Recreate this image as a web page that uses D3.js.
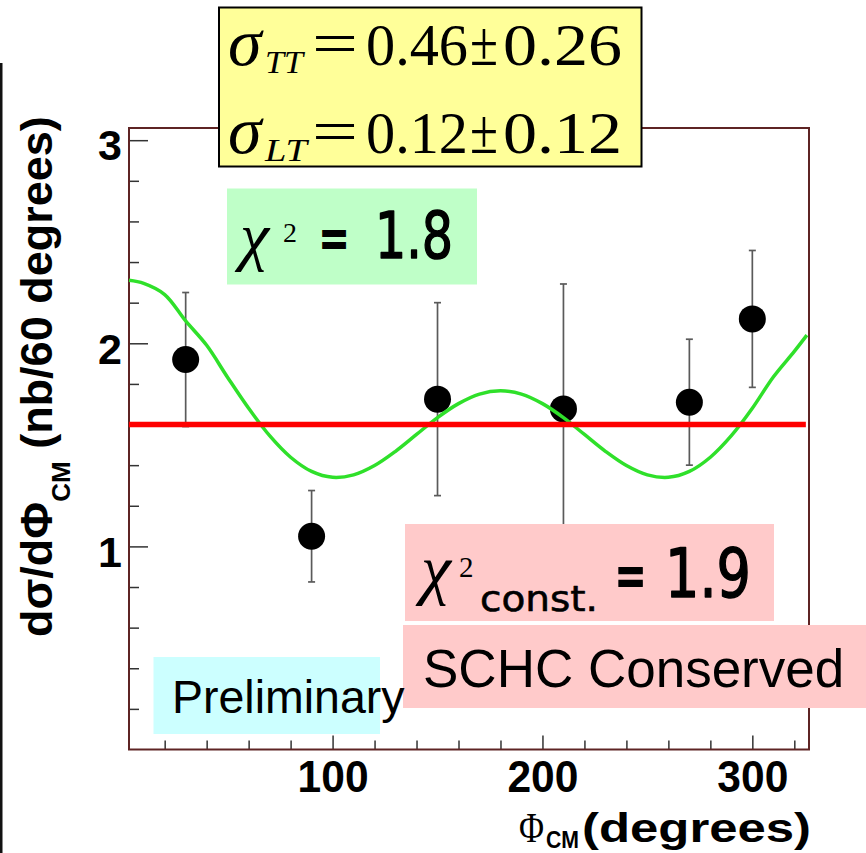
<!DOCTYPE html>
<html>
<head>
<meta charset="utf-8">
<script src="https://cdn.jsdelivr.net/npm/d3@7"></script>
<style>
  html, body { margin: 0; padding: 0; background: #fff; }
  svg { display: block; }
</style>
</head>
<body>
<svg id="chart" width="866" height="853"></svg>
<script>
// Measured azimuthal distribution (bin centres in degrees)
const phiBins = [30, 90, 150, 210, 270, 300];
const xsec = [1.92, 1.05, 1.725, 1.677, 1.71, 2.12];
const xsecErr = [0.33, 0.225, 0.475, 0.615, 0.31, 0.337];

// Fitted sigma_TT / sigma_LT modulation curve
const fitPhi = [3, 10, 20, 30, 40, 50, 60, 70, 80, 90, 100, 110, 120, 130, 140, 150, 160,
                170, 180, 190, 200, 210, 220, 230, 240, 250, 260, 270, 280, 290, 300, 310, 320, 326];
const fitVal = [2.31, 2.295, 2.24, 2.11, 1.99, 1.832, 1.68, 1.545, 1.439, 1.369, 1.34, 1.352, 1.398,
                1.468, 1.551, 1.634, 1.703, 1.75, 1.766, 1.75, 1.703, 1.634, 1.551, 1.468, 1.398,
                1.352, 1.34, 1.369, 1.439, 1.545, 1.68, 1.834, 1.96, 2.04];

// Constant (SCHC) fit
const constLevel = 1.60;
const constPhi = [3, 325.5];

// Axis ticks
const xMajor = [100, 200, 300];
const xMinor = [20, 40, 60, 80, 120, 140, 160, 180, 220, 240, 260, 280, 320];
const yMajor = [1, 2, 3];
const yMinor = [0.2, 0.4, 0.6, 0.8, 1.2, 1.4, 1.6, 1.8, 2.2, 2.4, 2.6, 2.8];

const svg = d3.select("#chart");
const sans = "'Liberation Sans', Arial, Helvetica, sans-serif";
const serif = "'Liberation Serif', 'Times New Roman', serif";
const round = "'DejaVu Sans', sans-serif";

const x = d3.scaleLinear().domain([3, 327]).range([129, 809]);
const y = d3.scaleLinear().domain([0, 3.06]).range([749.5, 128]);

// page margin rule on the left
svg.append("rect").attr("x", 0).attr("y", 63).attr("width", 2.5).attr("height", 790).attr("fill", "#111");

// axes
const tickColor = "#333";
function styleAxis(g) {
  g.select(".domain").remove();
  g.selectAll(".tick line").attr("stroke", tickColor).attr("stroke-width", 1.5);
}
svg.append("g").attr("transform", `translate(0,${y(0)})`)
  .call(d3.axisBottom(x).tickValues(xMinor).tickFormat("").tickSizeInner(-9).tickSizeOuter(0))
  .call(styleAxis);
svg.append("g").attr("transform", `translate(0,${y(0)})`)
  .call(d3.axisBottom(x).tickValues(xMajor).tickFormat(d3.format("d")).tickSizeInner(-14).tickSizeOuter(0).tickPadding(11))
  .call(styleAxis)
  .call(g => g.selectAll("text").attr("font-family", sans).attr("font-weight", "bold")
    .attr("font-size", 45).attr("fill", "#000").attr("textLength", 71).attr("lengthAdjust", "spacingAndGlyphs"));
svg.append("g").attr("transform", `translate(${x(3)},0)`)
  .call(d3.axisLeft(y).tickValues(yMinor).tickFormat("").tickSizeInner(-10).tickSizeOuter(0))
  .call(styleAxis);
svg.append("g").attr("transform", `translate(${x(3)},0)`)
  .call(d3.axisLeft(y).tickValues(yMajor).tickFormat(d3.format("d")).tickSizeInner(-19).tickSizeOuter(0).tickPadding(7))
  .call(styleAxis)
  .call(g => g.selectAll("text").attr("font-family", sans).attr("font-weight", "bold")
    .attr("font-size", 43).attr("fill", "#000").attr("dy", "0.46em"));

// plot frame
svg.append("rect")
  .attr("x", x(3)).attr("y", y(3.06))
  .attr("width", x(327) - x(3)).attr("height", y(0) - y(3.06))
  .attr("fill", "none").attr("stroke", "#5e2424").attr("stroke-width", 2);

// error bars
const bars = svg.append("g").attr("stroke", "#5a5a5a").attr("stroke-width", 1.7);
phiBins.forEach((p, i) => {
  const lo = xsec[i] - xsecErr[i], hi = xsec[i] + xsecErr[i];
  bars.append("line").attr("x1", x(p)).attr("x2", x(p)).attr("y1", y(lo)).attr("y2", y(hi));
  bars.append("line").attr("x1", x(p) - 3.5).attr("x2", x(p) + 3.5).attr("y1", y(lo)).attr("y2", y(lo));
  bars.append("line").attr("x1", x(p) - 3.5).attr("x2", x(p) + 3.5).attr("y1", y(hi)).attr("y2", y(hi));
});
svg.append("g").selectAll("circle").data(phiBins).join("circle")
  .attr("cx", d => x(d)).attr("cy", (d, i) => y(xsec[i])).attr("r", 13.5).attr("fill", "#000");

// modulation fit
const line = d3.line().x(d => x(d[0])).y(d => y(d[1])).curve(d3.curveCatmullRom);
svg.append("path").datum(fitPhi.map((p, i) => [p, fitVal[i]]))
  .attr("d", line).attr("fill", "none").attr("stroke", "#2fe02a").attr("stroke-width", 3.5);

// constant fit
svg.append("line")
  .attr("x1", x(constPhi[0])).attr("x2", x(constPhi[1]))
  .attr("y1", y(constLevel)).attr("y2", y(constLevel))
  .attr("stroke", "#ff0000").attr("stroke-width", 5.5);

// text helper
function txt(parent, s, o) {
  const t = parent.append("text").text(s)
    .attr("x", o.x).attr("y", o.y)
    .attr("font-family", o.family || sans)
    .attr("font-size", o.size)
    .attr("fill", "#000");
  if (o.weight) t.attr("font-weight", o.weight);
  if (o.style) t.attr("font-style", o.style);
  if (o.len) t.attr("textLength", o.len).attr("lengthAdjust", "spacingAndGlyphs");
  if (o.anchor) t.attr("text-anchor", o.anchor);
  if (o.thick) t.attr("stroke", "#000").attr("stroke-width", o.thick).attr("stroke-linejoin", "round");
  return t;
}
// narrow equals sign, squeezed horizontally
function equals(parent, px, py, size) {
  parent.append("text").text("=")
    .attr("transform", `translate(${px},${py}) scale(0.6,1)`)
    .attr("font-family", round).attr("font-size", size)
    .attr("fill", "#000").attr("stroke", "#000").attr("stroke-width", 2);
}

// axis titles
const yTitle = svg.append("g").attr("transform", "translate(52,637) rotate(-90)");
const yt = yTitle.append("text").attr("font-family", sans).attr("font-weight", "bold").attr("fill", "#000");
yt.append("tspan").attr("font-size", 45).text("dσ/dΦ");
yt.append("tspan").attr("font-size", 26).attr("dy", 18).text("CM");
yt.append("tspan").attr("font-size", 45).attr("dy", -18).text(" (nb/60 degrees)");

txt(svg, "Φ", { x: 519, y: 842, size: 42, family: serif, len: 25 });
txt(svg, "CM", { x: 546, y: 848, size: 24, weight: "bold", len: 33 });
txt(svg, "(degrees)", { x: 582, y: 842, size: 40, weight: "bold", len: 229 });

// fit result box
svg.append("rect").attr("x", 219).attr("y", 7.5).attr("width", 422.5).attr("height", 159)
  .attr("fill", "#ffff99").attr("stroke", "#000").attr("stroke-width", 2);
const fitBox = svg.append("g");
[["TT", 65, "0.46", "0.26"], ["LT", 153, "0.12", "0.12"]].forEach(([sub, base, v, e]) => {
  txt(fitBox, "σ", { x: 228, y: base, size: 68, family: serif, style: "italic" });
  txt(fitBox, sub, { x: 265, y: base + 8, size: 32, family: serif, style: "italic", len: sub === "TT" ? 38 : 42 });
  txt(fitBox, "=", { x: 312, y: base - 2, size: 60, family: serif, len: 46 });
  txt(fitBox, v, { x: 366, y: base, size: 60, family: serif, len: 102 });
  txt(fitBox, "±", { x: 470, y: base, size: 64, family: serif, len: 28 });
  txt(fitBox, e, { x: 503, y: base, size: 60, family: serif, len: 119 });
});

// chi-square of the modulation fit
svg.append("rect").attr("x", 227).attr("y", 188.5).attr("width", 250).attr("height", 96).attr("fill", "#bfffc8");
txt(svg, "χ", { x: 240, y: 258, size: 66, family: serif, style: "italic" });
txt(svg, "2", { x: 283, y: 242, size: 28, family: serif });
equals(svg, 319, 258, 60);
txt(svg, "1.8", { x: 375, y: 258, size: 64, family: round, len: 78, thick: 1.6 });

// chi-square of the constant fit
svg.append("rect").attr("x", 405).attr("y", 524).attr("width", 369).attr("height", 97).attr("fill", "#ffcaca");
txt(svg, "χ", { x: 421, y: 592, size: 68, family: serif, style: "italic" });
txt(svg, "2", { x: 459, y: 577, size: 29, family: serif });
txt(svg, "const.", { x: 480, y: 611, size: 36, family: round, len: 118, thick: 0.6 });
equals(svg, 615, 597, 62);
txt(svg, "1.9", { x: 665, y: 597, size: 68, family: round, len: 86, thick: 1.6 });

svg.append("rect").attr("x", 403).attr("y", 625).attr("width", 463).attr("height", 83).attr("fill", "#ffcaca");
txt(svg, "SCHC Conserved", { x: 423, y: 687, size: 53 });

svg.append("rect").attr("x", 153.5).attr("y", 657).attr("width", 226.5).attr("height", 77).attr("fill", "#ccffff");
txt(svg, "Preliminary", { x: 172, y: 712.5, size: 46.5 });
</script>
</body>
</html>
